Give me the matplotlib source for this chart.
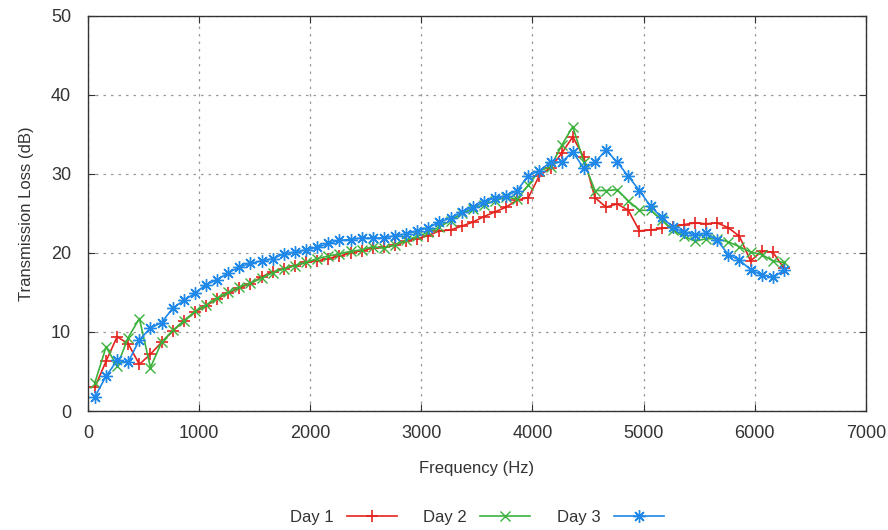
import matplotlib
matplotlib.use("Agg")
from matplotlib import pyplot as plt

plt.rcParams['font.family'] = ['Liberation Sans', 'DejaVu Sans']

# frequency bins (Hz)
freq = [63, 163, 263, 363, 463, 563, 663, 763, 863, 963,
        1063, 1163, 1263, 1363, 1463, 1563, 1663, 1763, 1863, 1963,
        2063, 2163, 2263, 2363, 2463, 2563, 2663, 2763, 2863, 2963,
        3063, 3163, 3263, 3363, 3463, 3563, 3663, 3763, 3863, 3963,
        4063, 4163, 4263, 4363, 4463, 4563, 4663, 4763, 4863, 4963,
        5063, 5163, 5263, 5363, 5463, 5563, 5663, 5763, 5863, 5963,
        6063, 6163, 6263]

# transmission loss (dB)
day1 = [3.0, 6.3, 9.4, 8.5, 5.9, 7.2, 8.7, 10.1, 11.4, 12.5,
        13.3, 14.2, 14.9, 15.6, 16.1, 17.0, 17.6, 18.0, 18.4, 18.8,
        19.0, 19.3, 19.6, 20.0, 20.3, 20.6, 20.7, 21.0, 21.5, 21.8,
        22.2, 22.8, 22.9, 23.4, 23.9, 24.6, 25.2, 25.8, 26.7, 27.0,
        29.8, 30.8, 32.6, 34.7, 32.1, 27.0, 25.8, 26.2, 25.4, 22.8,
        22.9, 23.1, 23.3, 23.6, 23.8, 23.7, 23.8, 23.2, 22.1, 19.0,
        20.2, 20.1, 18.1]
day2 = [3.6, 8.1, 5.7, 9.3, 11.7, 5.5, 8.7, 10.2, 11.4, 12.6,
        13.4, 14.3, 15.0, 15.7, 16.2, 16.8, 17.5, 18.0, 18.4, 18.8,
        19.3, 19.6, 19.9, 20.2, 20.4, 20.8, 20.6, 21.0, 21.6, 22.1,
        22.6, 23.3, 24.1, 25.0, 25.6, 26.1, 26.6, 27.1, 26.8, 28.6,
        30.4, 30.9, 33.6, 36.0, 31.5, 27.9, 27.9, 28.0, 26.6, 25.4,
        25.4, 24.2, 22.9, 22.1, 21.5, 21.8, 21.8, 21.4, 20.8, 20.1,
        19.8, 19.0, 18.8]
day3 = [1.8, 4.4, 6.4, 6.2, 9.0, 10.5, 11.2, 13.0, 14.0, 14.9,
        16.0, 16.6, 17.5, 18.2, 18.7, 19.0, 19.25, 19.9, 20.1, 20.4,
        20.7, 21.2, 21.6, 21.7, 21.9, 21.9, 21.9, 22.2, 22.4, 22.8,
        23.2, 23.9, 24.4, 25.2, 25.8, 26.4, 27.0, 27.2, 27.9, 29.8,
        30.4, 31.5, 31.5, 32.8, 30.7, 31.5, 33.0, 31.5, 29.7, 27.9,
        25.9, 24.5, 23.3, 22.6, 22.3, 22.5, 21.6, 19.8, 19.1, 17.9,
        17.2, 16.9, 17.8]

text_col = '#333333'

fig = plt.figure(figsize=(8.88, 5.30), dpi=100)
ax = fig.add_axes([0.099, 0.2245, 0.876, 0.7455])

ax.plot(freq, day1, color='#e4231e', lw=1.2, marker='+', ms=8, mew=1.2, label='Day 1')
ax.plot(freq, day2, color='#3cb13c', lw=1.2, marker='x', ms=7, mew=1.0, label='Day 2')
ax.plot(freq, day3, color='#1f88e8', lw=1.2, marker=(8, 2, 0), ms=9, mew=1.0, label='Day 3')

ax.set_xlim(0, 7000)
ax.set_ylim(0, 50)
ax.set_xticks(range(0, 7001, 1000))
ax.set_yticks(range(0, 51, 10))
ax.grid(True, color='#999999', linestyle=(0, (2, 4)), linewidth=0.9)
ax.tick_params(direction='in', top=True, right=True, length=5, width=0.8,
               labelsize=13, labelcolor=text_col, color='#333333')
ax.tick_params(axis='y', pad=12)
ax.tick_params(axis='x', pad=10)
for s in ax.spines.values():
    s.set_color('#333333')
    s.set_linewidth(1.0)

ax.set_xlabel('Frequency (Hz)', fontsize=12, color=text_col, labelpad=14)
ax.set_ylabel('Transmission Loss (dB)', fontsize=12, color=text_col, labelpad=12)

fig.legend(loc='center', bbox_to_anchor=(0.537, 0.023), ncol=3, frameon=False,
           markerfirst=False, fontsize=12, handlelength=3.0, columnspacing=1.6,
           handletextpad=0.8, labelcolor=text_col)

fig.savefig('out.png', dpi=100)
